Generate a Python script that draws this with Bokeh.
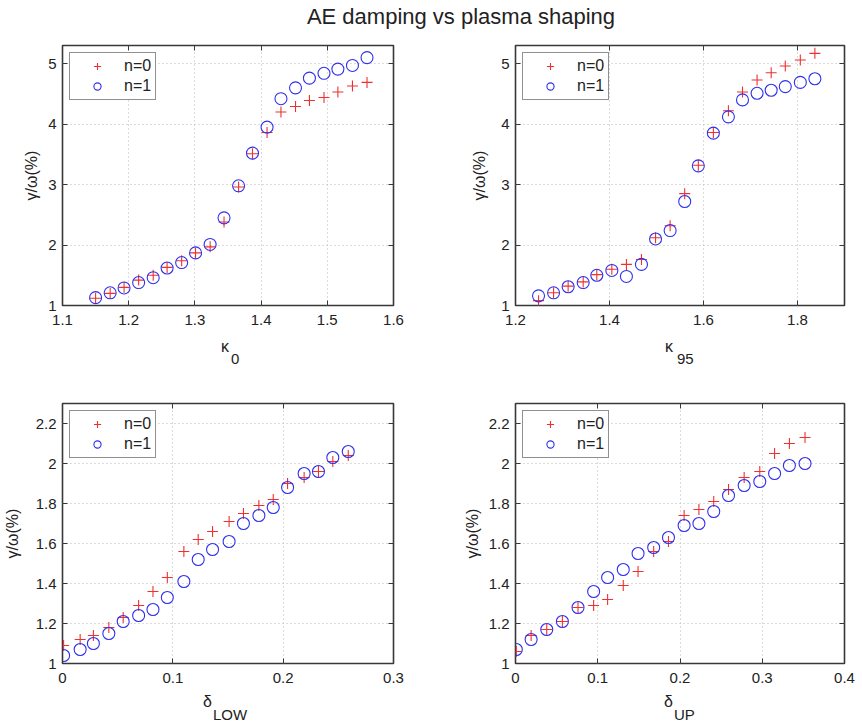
from bokeh.plotting import figure
from bokeh.models import Label, FixedTicker, Range1d, Div, LinearAxis
from bokeh.layouts import column, row
from bokeh.embed import file_html
from bokeh.resources import INLINE

TITLE = "AE damping vs plasma shaping"
YLABEL = "γ/ω(%)"
SERIES = ["n=0", "n=1"]

# ---- panel 1: kappa_0 ----
kappa0 = [1.150, 1.172, 1.193, 1.215, 1.237, 1.258, 1.280, 1.301, 1.323, 1.344,
          1.366, 1.387, 1.409, 1.430, 1.452, 1.473, 1.495, 1.516, 1.538, 1.560]
k0_n0 = [1.12, 1.20, 1.30, 1.42, 1.50, 1.63, 1.74, 1.87, 1.97, 2.38,
         2.96, 3.51, 3.86, 4.20, 4.29, 4.39, 4.44, 4.53, 4.63, 4.69]
k0_n1 = [1.13, 1.21, 1.29, 1.38, 1.46, 1.62, 1.71, 1.87, 2.01, 2.45,
         2.98, 3.52, 3.95, 4.42, 4.60, 4.76, 4.84, 4.91, 4.97, 5.10]

# ---- panel 2: kappa_95 ----
kappa95 = [1.249, 1.281, 1.312, 1.344, 1.373, 1.405, 1.436, 1.468, 1.498, 1.529,
           1.560, 1.589, 1.621, 1.653, 1.683, 1.714, 1.744, 1.774, 1.806, 1.837]
k95_n0 = [1.08, 1.21, 1.32, 1.39, 1.51, 1.60, 1.68, 1.76, 2.12, 2.32,
          2.85, 3.32, 3.86, 4.22, 4.53, 4.73, 4.85, 4.96, 5.06, 5.17]
k95_n1 = [1.16, 1.21, 1.31, 1.38, 1.50, 1.58, 1.48, 1.68, 2.10, 2.24,
          2.72, 3.31, 3.85, 4.12, 4.40, 4.51, 4.56, 4.62, 4.69, 4.75]

# ---- panel 3: delta_LOW ----
deltaLOW = [0.001, 0.016, 0.028, 0.042, 0.055, 0.069, 0.082, 0.095, 0.110, 0.123,
            0.136, 0.151, 0.164, 0.178, 0.191, 0.204, 0.219, 0.232, 0.245, 0.259]
dl_n0 = [1.09, 1.12, 1.14, 1.18, 1.23, 1.29, 1.36, 1.43, 1.56, 1.62,
         1.66, 1.71, 1.75, 1.79, 1.82, 1.90, 1.93, 1.96, 2.01, 2.04]
dl_n1 = [1.04, 1.07, 1.10, 1.15, 1.21, 1.24, 1.27, 1.33, 1.41, 1.52,
         1.57, 1.61, 1.70, 1.74, 1.78, 1.88, 1.95, 1.96, 2.03, 2.06]

# ---- panel 4: delta_UP ----
deltaUP = [0.001, 0.019, 0.038, 0.057, 0.076, 0.095, 0.112, 0.131, 0.149, 0.168,
           0.186, 0.205, 0.223, 0.241, 0.259, 0.278, 0.297, 0.315, 0.333, 0.352]
du_n0 = [1.06, 1.14, 1.17, 1.21, 1.28, 1.29, 1.32, 1.39, 1.46, 1.56,
         1.61, 1.74, 1.77, 1.81, 1.87, 1.93, 1.96, 2.05, 2.10, 2.13]
du_n1 = [1.07, 1.12, 1.17, 1.21, 1.28, 1.36, 1.43, 1.47, 1.55, 1.58,
         1.63, 1.69, 1.70, 1.76, 1.84, 1.89, 1.91, 1.95, 1.99, 2.00]

# ---- ticks ----
k0_ticks = [1.1, 1.2, 1.3, 1.4, 1.5, 1.6]
k0_tick_labels = ["1.1", "1.2", "1.3", "1.4", "1.5", "1.6"]
k95_ticks = [1.2, 1.4, 1.6, 1.8]
k95_tick_labels = ["1.2", "1.4", "1.6", "1.8"]
dl_ticks = [0, 0.1, 0.2, 0.3]
dl_tick_labels = ["0", "0.1", "0.2", "0.3"]
du_ticks = [0, 0.1, 0.2, 0.3, 0.4]
du_tick_labels = ["0", "0.1", "0.2", "0.3", "0.4"]
ytop_ticks = [1, 2, 3, 4, 5]
ytop_tick_labels = ["1", "2", "3", "4", "5"]
ybot_ticks = [1, 1.2, 1.4, 1.6, 1.8, 2.0, 2.2]
ybot_tick_labels = ["1", "1.2", "1.4", "1.6", "1.8", "2", "2.2"]

FONT = "Liberation Sans"
RED = "#ee3030"
BLUE = "#3030ee"
DARK = "#383838"


def box_axis(ticks):
    return LinearAxis(ticker=FixedTicker(ticks=ticks),
                      major_label_overrides={v: "" for v in ticks},
                      major_label_text_font_size="1px", major_label_standoff=0,
                      major_tick_in=5, major_tick_out=0,
                      major_tick_line_color=DARK, minor_tick_line_color=None,
                      axis_line_color=None)


def panel(x, y0, y1, xr, yr, xt, xtl, yt, ytl, w, h, bl, br, bt, bb, ylab_sd,
          main, sub, main_dx, sub_dx, main_dy, sub_dy):
    p = figure(width=w, height=h, x_range=Range1d(*xr), y_range=Range1d(*yr),
               output_backend="svg", toolbar_location=None,
               min_border_left=bl, min_border_right=br,
               min_border_top=bt, min_border_bottom=bb)
    p.background_fill_color = "white"
    p.border_fill_color = "white"
    p.outline_line_color = DARK
    p.outline_line_width = 1.6

    p.xaxis.ticker = FixedTicker(ticks=xt)
    p.xaxis.major_label_overrides = {v: s for v, s in zip(xt, xtl)}
    p.yaxis.ticker = FixedTicker(ticks=yt)
    p.yaxis.major_label_overrides = {v: s for v, s in zip(yt, ytl)}
    for ax in (p.xaxis, p.yaxis):
        ax.axis_line_color = None
        ax.major_tick_in = 5
        ax.major_tick_out = 0
        ax.major_tick_line_color = DARK
        ax.minor_tick_line_color = None
        ax.major_label_text_font = FONT
        ax.major_label_text_font_size = "15px"
        ax.major_label_text_color = "#222222"
    p.xaxis.major_label_standoff = 9
    p.yaxis.major_label_standoff = 6
    p.yaxis.axis_label = YLABEL
    p.yaxis.axis_label_text_font = FONT
    p.yaxis.axis_label_text_font_size = "16px"
    p.yaxis.axis_label_text_font_style = "normal"
    p.yaxis.axis_label_text_color = "#222222"
    p.yaxis.axis_label_standoff = ylab_sd

    p.add_layout(box_axis(xt), "above")
    p.add_layout(box_axis(yt), "right")

    # x-axis label: greek letter plus subscript, in the panel below the frame
    xc = (xr[0] + xr[1]) / 2
    p.add_layout(Label(x=xc, y=yr[0], text=main, text_font=FONT,
                       text_font_size="16px", text_color="#222222",
                       text_align="left", text_baseline="alphabetic",
                       x_offset=main_dx, y_offset=main_dy), "below")
    p.add_layout(Label(x=xc, y=yr[0], text=sub, text_font=FONT,
                       text_font_size="15px", text_color="#222222",
                       text_align="left", text_baseline="alphabetic",
                       x_offset=sub_dx, y_offset=sub_dy), "below")

    p.grid.grid_line_color = "#b8b8b8"
    p.grid.grid_line_dash = "1 3"
    p.grid.grid_line_width = 1

    p.scatter(x, y0, marker="cross", size=11, line_color=RED, line_width=1.1,
              legend_label=SERIES[0])
    p.scatter(x, y1, marker="circle", size=12, fill_color=None,
              line_color=BLUE, line_width=1.1, legend_label=SERIES[1])

    lg = p.legend[0]
    lg.location = "top_left"
    lg.margin = 7
    lg.padding = 4
    lg.spacing = 2
    lg.glyph_width = 46
    lg.glyph_height = 18
    lg.label_height = 18
    lg.label_standoff = 4
    lg.label_text_font = FONT
    lg.label_text_font_size = "16px"
    lg.label_text_color = "#222222"
    lg.border_line_color = "#222222"
    lg.border_line_width = 1.5
    lg.background_fill_alpha = 1
    return p


p1 = panel(kappa0, k0_n0, k0_n1, (1.1, 1.6), (1, 5.3), k0_ticks, k0_tick_labels,
           ytop_ticks, ytop_tick_labels, 450, 342, 62, 57, 7, 75, 5,
           "κ", "0", -7, 3, -41, -53)
p2 = panel(kappa95, k95_n0, k95_n1, (1.2, 1.9), (1, 5.3), k95_ticks, k95_tick_labels,
           ytop_ticks, ytop_tick_labels, 408, 342, 65, 14, 7, 75, 10,
           "κ", "95", -15, -3, -41, -53)
p3 = panel(deltaLOW, dl_n0, dl_n1, (0, 0.3), (1, 2.3), dl_ticks, dl_tick_labels,
           ybot_ticks, ybot_tick_labels, 450, 347, 62, 57, 23, 64, 12,
           "δ", "LOW", -25, -15, -38, -51)
p4 = panel(deltaUP, du_n0, du_n1, (0, 0.4), (1, 2.3), du_ticks, du_tick_labels,
           ybot_ticks, ybot_tick_labels, 408, 347, 65, 14, 23, 64, 5,
           "δ", "UP", -16, -6, -38, -51)

title = Div(text=('<div style="width:858px;box-sizing:border-box;padding-left:64px;'
                  'text-align:center;font-family:\'Liberation Sans\';font-size:22px;'
                  'color:#222;line-height:22px;margin-top:6px;">' + TITLE + '</div>'),
            width=858, height=38, margin=0)

layout = column(title, row(p1, p2), row(p3, p4))

open("out.html", "w").write(file_html(layout, INLINE))
